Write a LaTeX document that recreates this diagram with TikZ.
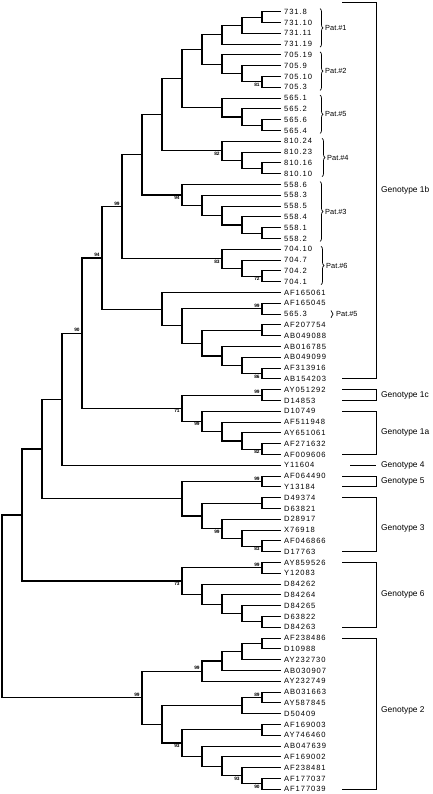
\documentclass[tikz,border=0pt]{standalone}
\usepackage{fontspec}
\setmainfont{Liberation Sans}
\usetikzlibrary{calc,decorations.pathreplacing}

\tikzset{
  branch/.style={line width=1.15pt},
  leaf/.style={anchor=west, inner xsep=3pt, inner ysep=0pt,
    font=\fontsize{7.6}{8}\selectfont\addfontfeatures{LetterSpace=12}},
  boot/.style={inner sep=1pt, xshift=-1.2pt, font=\fontsize{4.8}{5}\selectfont\bfseries},
  pat/.style={anchor=west, inner sep=0pt, font=\fontsize{7.4}{8}\selectfont},
  geno/.style={anchor=west, inner sep=0pt, font=\fontsize{8.4}{9}\selectfont},
  bracket/.style={line width=1pt},
  patbrace/.style={decorate, decoration={brace, amplitude=3pt}, line width=0.7pt}
}

% clade: name, x, first child, second child
\newcommand{\clade}[4]{%
  \path let \p1=(#3), \p2=(#4) in coordinate (#1) at (#2pt,{(\y1+\y2)/2});
  \draw[branch] (#1) |- (#3);
  \draw[branch] (#1) |- (#4);
}

\begin{document}
\begin{tikzpicture}[x=1pt, y=-1pt]
  \useasboundingbox (0,0) rectangle (432,794);

  % leaves
  \node[leaf] (t1) at (281,11.7) {731.8};
  \node[leaf] (t2) at (281,22.5) {731.10};
  \node[leaf] (t3) at (281,33.3) {731.11};
  \node[leaf] (t4) at (281,44.1) {731.19};
  \node[leaf] (t5) at (281,54.9) {705.19};
  \node[leaf] (t6) at (281,65.7) {705.9};
  \node[leaf] (t7) at (281,76.5) {705.10};
  \node[leaf] (t8) at (281,87.3) {705.3};
  \node[leaf] (t9) at (281,98.1) {565.1};
  \node[leaf] (t10) at (281,108.9) {565.2};
  \node[leaf] (t11) at (281,119.7) {565.6};
  \node[leaf] (t12) at (281,130.5) {565.4};
  \node[leaf] (t13) at (281,141.3) {810.24};
  \node[leaf] (t14) at (281,152.1) {810.23};
  \node[leaf] (t15) at (281,162.9) {810.16};
  \node[leaf] (t16) at (281,173.7) {810.10};
  \node[leaf] (t17) at (281,184.5) {558.6};
  \node[leaf] (t18) at (281,195.3) {558.3};
  \node[leaf] (t19) at (281,206.1) {558.5};
  \node[leaf] (t20) at (281,216.9) {558.4};
  \node[leaf] (t21) at (281,227.7) {558.1};
  \node[leaf] (t22) at (281,238.5) {558.2};
  \node[leaf] (t23) at (281,249.3) {704.10};
  \node[leaf] (t24) at (281,260.1) {704.7};
  \node[leaf] (t25) at (281,270.9) {704.2};
  \node[leaf] (t26) at (281,281.7) {704.1};
  \node[leaf] (t27) at (281,292.5) {AF165061};
  \node[leaf] (t28) at (281,303.3) {AF165045};
  \node[leaf] (t29) at (281,314.1) {565.3};
  \node[leaf] (t30) at (281,324.9) {AF207754};
  \node[leaf] (t31) at (281,335.7) {AB049088};
  \node[leaf] (t32) at (281,346.5) {AB016785};
  \node[leaf] (t33) at (281,357.3) {AB049099};
  \node[leaf] (t34) at (281,368.1) {AF313916};
  \node[leaf] (t35) at (281,378.9) {AB154203};
  \node[leaf] (t36) at (281,389.7) {AY051292};
  \node[leaf] (t37) at (281,400.5) {D14853};
  \node[leaf] (t38) at (281,411.3) {D10749};
  \node[leaf] (t39) at (281,422.1) {AF511948};
  \node[leaf] (t40) at (281,432.9) {AY651061};
  \node[leaf] (t41) at (281,443.7) {AF271632};
  \node[leaf] (t42) at (281,454.5) {AF009606};
  \node[leaf] (t43) at (281,465.3) {Y11604};
  \node[leaf] (t44) at (281,476.1) {AF064490};
  \node[leaf] (t45) at (281,486.9) {Y13184};
  \node[leaf] (t46) at (281,497.7) {D49374};
  \node[leaf] (t47) at (281,508.5) {D63821};
  \node[leaf] (t48) at (281,519.3) {D28917};
  \node[leaf] (t49) at (281,530.1) {X76918};
  \node[leaf] (t50) at (281,540.9) {AF046866};
  \node[leaf] (t51) at (281,551.7) {D17763};
  \node[leaf] (t52) at (281,562.5) {AY859526};
  \node[leaf] (t53) at (281,573.3) {Y12083};
  \node[leaf] (t54) at (281,584.1) {D84262};
  \node[leaf] (t55) at (281,594.9) {D84264};
  \node[leaf] (t56) at (281,605.7) {D84265};
  \node[leaf] (t57) at (281,616.5) {D63822};
  \node[leaf] (t58) at (281,627.3) {D84263};
  \node[leaf] (t59) at (281,638.1) {AF238486};
  \node[leaf] (t60) at (281,648.9) {D10988};
  \node[leaf] (t61) at (281,659.7) {AY232730};
  \node[leaf] (t62) at (281,670.5) {AB030907};
  \node[leaf] (t63) at (281,681.3) {AY232749};
  \node[leaf] (t64) at (281,692.1) {AB031663};
  \node[leaf] (t65) at (281,702.9) {AY587845};
  \node[leaf] (t66) at (281,713.7) {D50409};
  \node[leaf] (t67) at (281,724.5) {AF169003};
  \node[leaf] (t68) at (281,735.3) {AY746460};
  \node[leaf] (t69) at (281,746.1) {AB047639};
  \node[leaf] (t70) at (281,756.9) {AF169002};
  \node[leaf] (t71) at (281,767.7) {AF238481};
  \node[leaf] (t72) at (281,778.5) {AF177037};
  \node[leaf] (t73) at (281,789.3) {AF177039};

  % patient clades
  \clade{pA1}{262}{t1}{t2}
  \clade{pA2}{242}{pA1}{t3}
  \clade{pA3}{222}{pA2}{t4}
  \clade{pB1}{262}{t7}{t8}
  \clade{pB2}{242}{t6}{pB1}
  \clade{pB3}{222}{t5}{pB2}
  \clade{pAB}{202}{pA3}{pB3}
  \clade{pE1}{262}{t11}{t12}
  \clade{pE2}{242}{t10}{pE1}
  \clade{pE3}{222}{t9}{pE2}
  \clade{pABE}{182}{pAB}{pE3}
  \clade{pD1}{262}{t15}{t16}
  \clade{pD2}{242}{t14}{pD1}
  \clade{pD3}{222}{t13}{pD2}
  \clade{pABED}{162}{pABE}{pD3}
  \clade{pC1}{262}{t21}{t22}
  \clade{pC2}{242}{t20}{pC1}
  \clade{pC3}{222}{t19}{pC2}
  \clade{pC4}{202}{t18}{pC3}
  \clade{pC5}{182}{t17}{pC4}
  \clade{pt7}{142}{pABED}{pC5}
  \clade{pF1}{262}{t25}{t26}
  \clade{pF2}{242}{t24}{pF1}
  \clade{pF3}{222}{t23}{pF2}
  \clade{pt8}{122}{pt7}{pF3}

  % genotype 1b references
  \clade{rb1}{262}{t28}{t29}
  \clade{rb2}{262}{t30}{t31}
  \clade{rb3}{262}{t34}{t35}
  \clade{rb4}{242}{t33}{rb3}
  \clade{rb5}{222}{t32}{rb4}
  \clade{rb6}{202}{rb2}{rb5}
  \clade{rb7}{182}{rb1}{rb6}
  \clade{rb8}{162}{t27}{rb7}
  \clade{g1b}{102}{pt8}{rb8}

  % genotypes 1c, 1a, 4
  \clade{g1c}{262}{t36}{t37}
  \clade{ga1}{262}{t41}{t42}
  \clade{ga2}{242}{t40}{ga1}
  \clade{ga3}{222}{t39}{ga2}
  \clade{g1a}{202}{t38}{ga3}
  \clade{g1ac}{182}{g1c}{g1a}
  \clade{g1}{82}{g1b}{g1ac}
  \clade{g14}{62}{g1}{t43}

  % genotypes 5, 3
  \clade{g5}{262}{t44}{t45}
  \clade{gc1}{262}{t46}{t47}
  \clade{gc2}{262}{t50}{t51}
  \clade{gc3}{242}{t49}{gc2}
  \clade{gc4}{222}{t48}{gc3}
  \clade{g3}{202}{gc1}{gc4}
  \clade{g35}{182}{g5}{g3}
  \clade{g1435}{42}{g14}{g35}

  % genotype 6
  \clade{gf1}{262}{t52}{t53}
  \clade{gf2}{262}{t57}{t58}
  \clade{gf3}{242}{t56}{gf2}
  \clade{gf4}{222}{t55}{gf3}
  \clade{gf5}{202}{t54}{gf4}
  \clade{g6}{182}{gf1}{gf5}
  \clade{g14356}{22}{g1435}{g6}

  % genotype 2
  \clade{gb1}{262}{t59}{t60}
  \clade{gb2}{242}{gb1}{t61}
  \clade{gb3}{222}{gb2}{t62}
  \clade{gb4}{202}{gb3}{t63}
  \clade{gb5}{262}{t64}{t65}
  \clade{gb6}{242}{gb5}{t66}
  \clade{gb7}{262}{t67}{t68}
  \clade{gb8}{262}{t72}{t73}
  \clade{gb9}{242}{t71}{gb8}
  \clade{gb10}{222}{t70}{gb9}
  \clade{gb11}{202}{t69}{gb10}
  \clade{gb12}{182}{gb7}{gb11}
  \clade{gb13}{162}{gb6}{gb12}
  \clade{g2}{142}{gb4}{gb13}
  \clade{root}{2}{g14356}{g2}

  % bootstrap values
  \node[boot, below left] (bs1) at (pB1) {81};
  \node[boot, below left] (bs2) at (pD3) {82};
  \node[boot, below left] (bs3) at (pC5) {94};
  \node[boot, below left] (bs4) at (pF3) {83};
  \node[boot, below left] (bs5) at (pF1) {72};
  \node[boot, above left] (bs6) at (pt8) {99};
  \node[boot, above left] (bs7) at (g1b) {94};
  \node[boot, above left] (bs8) at (g1) {90};
  \node[boot, above left] (bs9) at (rb1) {99};
  \node[boot, below left] (bs10) at (rb3) {86};
  \node[boot, above left] (bs11) at (g1c) {99};
  \node[boot, below left] (bs12) at (g1ac) {71};
  \node[boot, below left] (bs13) at (g1a) {99};
  \node[boot, below left] (bs14) at (ga1) {82};
  \node[boot, above left] (bs15) at (g5) {99};
  \node[boot, below left] (bs16) at (gc4) {99};
  \node[boot, below left] (bs17) at (gc2) {83};
  \node[boot, above left] (bs18) at (gf1) {99};
  \node[boot, below left] (bs19) at (g6) {73};
  \node[boot, above left] (bs20) at (gb4) {99};
  \node[boot, above left] (bs21) at (gb5) {89};
  \node[boot, below left] (bs22) at (gb12) {93};
  \node[boot, below left] (bs23) at (gb9) {93};
  \node[boot, below left] (bs24) at (gb8) {90};
  \node[boot, above left] (bs25) at (g2) {99};

  % patients
  \draw[patbrace] (320,8.7) -- (320,47.1);
  \node[pat] (pat1) at (325,27.9) {Pat.\#1};
  \draw[patbrace] (320,51.9) -- (320,90.3);
  \node[pat] (pat2) at (325,71.1) {Pat.\#2};
  \draw[patbrace] (320,95.1) -- (320,133.5);
  \node[pat] (pat5) at (325,114.3) {Pat.\#5};
  \draw[patbrace] (322,138.3) -- (322,176.7);
  \node[pat] (pat4) at (327,157.5) {Pat.\#4};
  \draw[patbrace] (320,181.5) -- (320,241.5);
  \node[pat] (pat3) at (325,211.5) {Pat.\#3};
  \draw[patbrace] (321,246.3) -- (321,284.7);
  \node[pat] (pat6) at (326,265.5) {Pat.\#6};
  \draw[patbrace, decoration={amplitude=2pt}] (331,310.5) -- (331,317.7);
  \node[pat] (pat5b) at (336,314.1) {Pat.\#5};

  % genotypes
  \draw[bracket] (342,3) -| (376,378.9) -- (342,378.9);
  \node[geno] (gl1b) at (381,190) {Genotype 1b};
  \draw[bracket] (342,389.7) -| (376,400.5) -- (342,400.5);
  \node[geno] (gl1c) at (381,395.1) {Genotype 1c};
  \draw[bracket] (342,411.3) -| (376,454.5) -- (342,454.5);
  \node[geno] (gl1a) at (381,432) {Genotype 1a};
  \draw[bracket] (350,465.3) -- (376,465.3);
  \node[geno] (gl4) at (381,465.3) {Genotype 4};
  \draw[bracket] (342,476.1) -| (376,486.9) -- (342,486.9);
  \node[geno] (gl5) at (381,481.5) {Genotype 5};
  \draw[bracket] (342,497.7) -| (376,551.7) -- (342,551.7);
  \node[geno] (gl3) at (381,528) {Genotype 3};
  \draw[bracket] (342,562.5) -| (376,627.3) -- (342,627.3);
  \node[geno] (gl6) at (381,594.9) {Genotype 6};
  \draw[bracket] (342,638.1) -| (376,789.3) -- (342,789.3);
  \node[geno] (gl2) at (381,710) {Genotype 2};
\end{tikzpicture}
\end{document}
